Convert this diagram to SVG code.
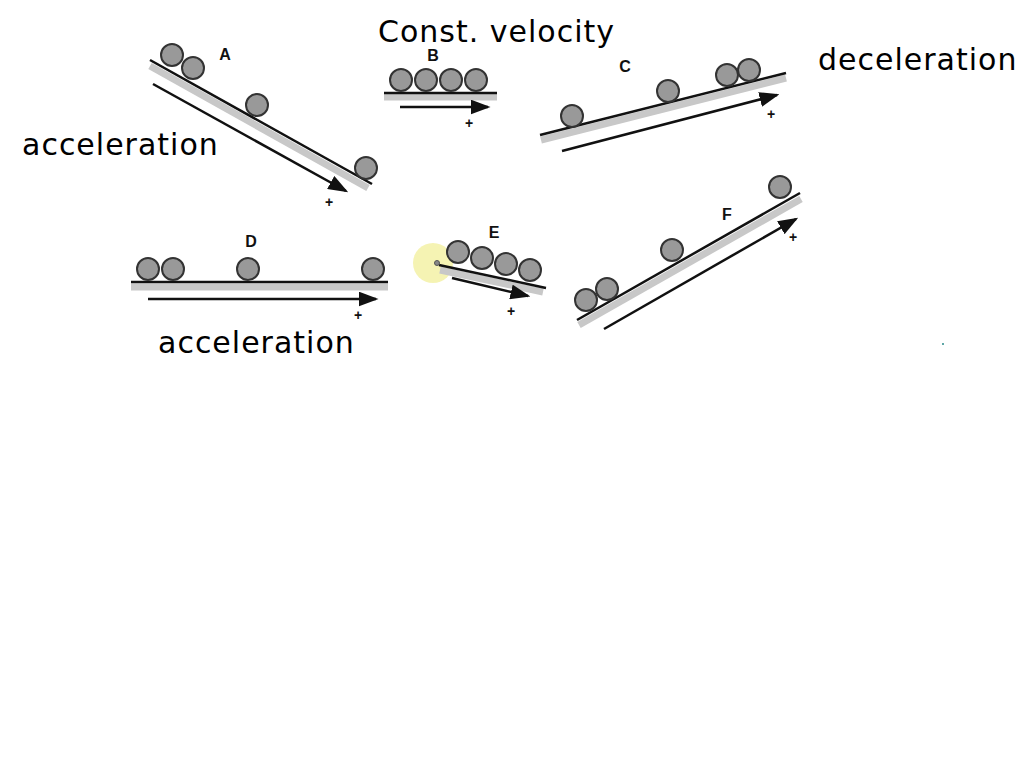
<svg xmlns="http://www.w3.org/2000/svg" width="1024" height="768" viewBox="0 0 1024 768">
<style>
.band{stroke:#c8c8c8;stroke-width:7;fill:none}
.ramp{stroke:#111;stroke-width:2.5;fill:none}
.arr{stroke:#111;stroke-width:2.5;fill:none;marker-end:url(#ah)}
.ball{fill:#999;stroke:#333;stroke-width:2}
.lbl{font-family:"Liberation Sans",Arial,sans-serif;font-weight:bold;font-size:16px;fill:#111;text-anchor:middle}
.pl{font-family:"Liberation Sans",Arial,sans-serif;font-weight:bold;font-size:14px;fill:#111;text-anchor:middle}
.hw{font-family:"DejaVu Sans",sans-serif;font-size:30px;fill:#000;letter-spacing:1px}
</style>
<defs>
<marker id="ah" markerWidth="8" markerHeight="6" refX="7" refY="3" orient="auto" markerUnits="strokeWidth"><path d="M0,0 L8,3 L0,6 z" fill="#111"/></marker>
</defs>
<rect width="1024" height="768" fill="#fff"/>
<circle cx="433" cy="263" r="20" fill="#f3f0a0" opacity="0.8"/>
<g id="A">
<line class="band" x1="150" y1="66" x2="368" y2="188"/>
<line class="ramp" x1="150" y1="60" x2="372" y2="184"/>
<line class="arr" x1="153" y1="84" x2="346" y2="191"/>
<circle class="ball" cx="172" cy="55" r="11"/><circle class="ball" cx="193" cy="68" r="11"/><circle class="ball" cx="257" cy="105" r="11"/><circle class="ball" cx="366" cy="168" r="11"/>
<text class="lbl" x="225" y="60">A</text><text class="pl" x="329" y="207">+</text>
</g>
<g id="B">
<line class="band" x1="384" y1="97" x2="497" y2="97"/>
<line class="ramp" x1="384" y1="93" x2="497" y2="93"/>
<line class="arr" x1="400" y1="107" x2="488" y2="107"/>
<circle class="ball" cx="401" cy="80" r="11"/><circle class="ball" cx="426" cy="80" r="11"/><circle class="ball" cx="451" cy="80" r="11"/><circle class="ball" cx="476" cy="80" r="11"/>
<text class="lbl" x="433" y="61">B</text><text class="pl" x="469" y="128">+</text>
</g>
<g id="C">
<line class="band" x1="541" y1="140" x2="786" y2="78"/>
<line class="ramp" x1="540" y1="135" x2="786" y2="73"/>
<line class="arr" x1="562" y1="151" x2="777" y2="95"/>
<circle class="ball" cx="572" cy="116" r="11"/><circle class="ball" cx="668" cy="91" r="11"/><circle class="ball" cx="727" cy="75" r="11"/><circle class="ball" cx="749" cy="70" r="11"/>
<text class="lbl" x="625" y="72">C</text><text class="pl" x="771" y="119">+</text>
</g>
<g id="D">
<line class="band" x1="131" y1="287" x2="388" y2="287"/>
<line class="ramp" x1="131" y1="282" x2="388" y2="282"/>
<line class="arr" x1="148" y1="299" x2="376" y2="299"/>
<circle class="ball" cx="148" cy="269" r="11"/><circle class="ball" cx="173" cy="269" r="11"/><circle class="ball" cx="248" cy="269" r="11"/><circle class="ball" cx="373" cy="269" r="11"/>
<text class="lbl" x="251" y="247">D</text><text class="pl" x="358" y="320">+</text>
</g>
<g id="E">
<line class="band" x1="440" y1="270" x2="543" y2="292"/>
<line class="ramp" x1="439" y1="265" x2="546" y2="288"/>
<line class="arr" x1="452" y1="278" x2="528" y2="296"/>
<circle class="ball" cx="458" cy="252" r="11"/><circle class="ball" cx="482" cy="258" r="11"/><circle class="ball" cx="506" cy="264" r="11"/><circle class="ball" cx="530" cy="270" r="11"/>
<circle cx="437" cy="263" r="2.5" fill="#888" stroke="#555"/>
<text class="lbl" x="494" y="238">E</text><text class="pl" x="511" y="316">+</text>
</g>
<g id="F">
<line class="band" x1="579" y1="325" x2="801" y2="199"/>
<line class="ramp" x1="577" y1="320" x2="800" y2="193"/>
<line class="arr" x1="604" y1="329" x2="796" y2="219"/>
<circle class="ball" cx="586" cy="300" r="11"/><circle class="ball" cx="607" cy="289" r="11"/><circle class="ball" cx="672" cy="250" r="11"/><circle class="ball" cx="780" cy="187" r="11"/>
<text class="lbl" x="727" y="220">F</text><text class="pl" x="793" y="242">+</text>
</g>
<text class="hw" x="378" y="42" font-size="28">Const. velocity</text>
<text class="hw" x="22" y="155">acceleration</text>
<text class="hw" x="818" y="70">deceleration</text>
<text class="hw" x="158" y="353">acceleration</text>
<circle cx="943" cy="344" r="1" fill="#2a8a8a"/>
</svg>
